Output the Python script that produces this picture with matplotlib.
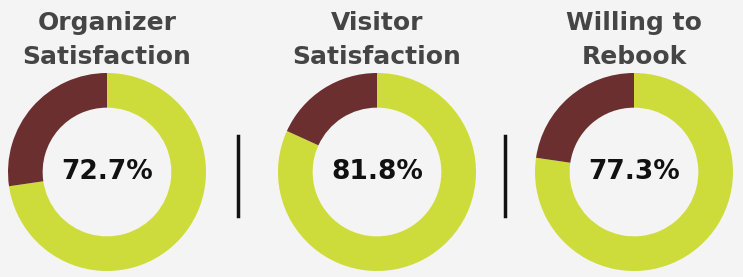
import matplotlib
matplotlib.use("Agg")
import matplotlib.pyplot as plt

titles = ["Organizer\nSatisfaction", "Visitor\nSatisfaction", "Willing to\nRebook"]
values = [72.7, 81.8, 77.3]
labels = [f"{v:.1f}%" for v in values]

W, H = 743, 277
centers_x = [107, 377, 634]
center_y = 172
radius_px = 99
title_y = [23, 57]
sep_x = [238, 505]

LIME = "#cddc3a"
MAROON = "#6b2f2f"
BG = "#f4f4f4"

fig = plt.figure(figsize=(W / 100, H / 100), dpi=100)
fig.patch.set_facecolor(BG)

for cx, title, val, lab in zip(centers_x, titles, values, labels):
    ax = fig.add_axes([(cx - radius_px) / W, (H - center_y - radius_px) / H,
                       2 * radius_px / W, 2 * radius_px / H])
    ax.pie([val, 100 - val], colors=[LIME, MAROON], startangle=90,
           counterclock=False, radius=1,
           wedgeprops=dict(width=0.35, edgecolor="none"))
    ax.set_xlim(-1, 1)
    ax.set_ylim(-1, 1)
    ax.set_aspect("auto")
    ax.axis("off")
    ax.text(0, 0, lab, ha="center", va="center", fontsize=19,
            fontweight="bold", color="#111111")
    lines = title.split("\n")
    for ty, line in zip(title_y, lines):
        fig.text(cx / W, 1 - ty / H, line, ha="center", va="center",
                 fontsize=18, color="#454545", fontweight="semibold")

for sx in sep_x:
    fig.add_artist(plt.Line2D([sx / W, sx / W], [1 - 136 / H, 1 - 216 / H],
                              color="#111111", lw=2.5))

fig.savefig("out.png", dpi=100, facecolor=BG)
